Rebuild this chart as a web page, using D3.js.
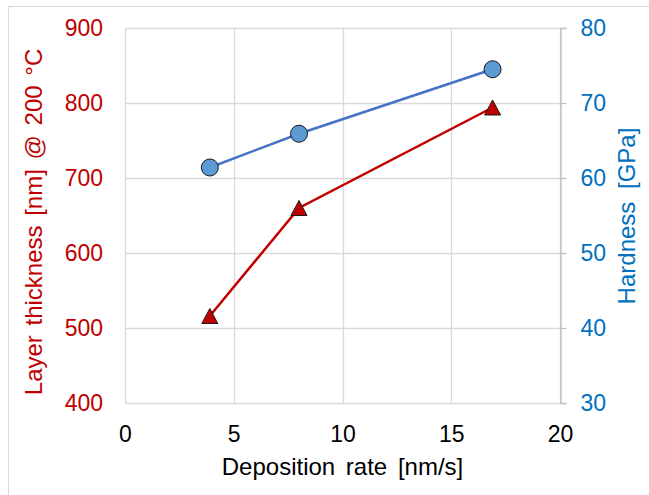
<!DOCTYPE html>
<html>
<head>
<meta charset="utf-8">
<script src="https://cdn.jsdelivr.net/npm/d3@7"></script>
<style>
  body { margin: 0; background: #fff; }
  text { font-family: "Liberation Sans", Arial, sans-serif; }
</style>
</head>
<body>
<svg id="chart"></svg>
<script>
// deposition rate [nm/s]
const rate = [3.9, 8.0, 16.9];
// layer thickness [nm] @ 200 °C
const thickness = [516, 660, 794];
// hardness [GPa]
const hardness = [61.4, 65.9, 74.5];

const xTicks = [0, 5, 10, 15, 20];
const yLeftTicks = [400, 500, 600, 700, 800, 900];
const yRightTicks = [30, 40, 50, 60, 70, 80];

const width = 649, height = 495,
    margin = { top: 28, right: 89, bottom: 92, left: 125 };

const red = "#c00000", blue = "#0070c0", grid = "#d9d9d9";
const tickFont = 23, titleFont = 24;

const svg = d3.select("#chart")
    .attr("width", width)
    .attr("height", height);

// chart frame
svg.append("path")
    .attr("d", "M8.5," + height + "V6.5H" + width)
    .attr("fill", "none")
    .attr("stroke", grid);

const x = d3.scaleLinear()
    .domain([0, 20])
    .range([margin.left, width - margin.right]);

const yL = d3.scaleLinear()
    .domain([400, 900])
    .range([height - margin.bottom, margin.top]);

const yR = d3.scaleLinear()
    .domain([30, 80])
    .range([height - margin.bottom, margin.top]);

// gridlines
svg.append("g")
    .selectAll("line")
    .data(yLeftTicks)
    .join("line")
    .attr("x1", x(0)).attr("x2", x(20))
    .attr("y1", d => Math.round(yL(d)) + 0.5)
    .attr("y2", d => Math.round(yL(d)) + 0.5)
    .attr("stroke", grid)
    .attr("stroke-width", 1.3);

svg.append("g")
    .selectAll("line")
    .data(xTicks)
    .join("line")
    .attr("x1", d => Math.round(x(d)) + 0.5)
    .attr("x2", d => Math.round(x(d)) + 0.5)
    .attr("y1", yL(900)).attr("y2", yL(400))
    .attr("stroke", grid)
    .attr("stroke-width", 1.3);

// x axis labels
const xAxis = svg.append("g")
    .attr("transform", "translate(0," + (height - margin.bottom) + ")")
    .call(d3.axisBottom(x).tickValues(xTicks).tickSize(0).tickPadding(23));
xAxis.select(".domain").remove();
xAxis.selectAll("text")
    .attr("font-size", tickFont)
    .attr("fill", "#000")
    .style("font-family", "Liberation Sans, Arial, sans-serif");

// left axis
const leftAxis = svg.append("g")
    .attr("transform", "translate(" + margin.left + ",0)")
    .call(d3.axisLeft(yL).tickValues(yLeftTicks).tickSize(0).tickPadding(22));
leftAxis.select(".domain").remove();
leftAxis.selectAll("text")
    .attr("font-size", tickFont)
    .attr("fill", red)
    .style("font-family", "Liberation Sans, Arial, sans-serif");

// right axis
const rightAxis = svg.append("g")
    .attr("transform", "translate(" + (width - margin.right + 0.5) + ",0)")
    .call(d3.axisRight(yR).tickValues(yRightTicks).tickSize(6).tickSizeOuter(6).tickPadding(14));
rightAxis.select(".domain").attr("stroke", "#bfbfbf").attr("stroke-width", 1.3);
rightAxis.selectAll(".tick line").attr("stroke", "#bfbfbf").attr("stroke-width", 1.3);
rightAxis.selectAll("text")
    .attr("font-size", tickFont)
    .attr("fill", blue)
    .style("font-family", "Liberation Sans, Arial, sans-serif");

// axis titles
svg.append("text")
    .attr("x", (x(0) + x(20)) / 2)
    .attr("y", 475)
    .attr("text-anchor", "middle")
    .attr("font-size", titleFont)
    .attr("word-spacing", 4)
    .attr("fill", "#000")
    .text("Deposition rate [nm/s]");

svg.append("text")
    .attr("transform", "translate(42," + 222 + ") rotate(-90)")
    .attr("text-anchor", "middle")
    .attr("font-size", titleFont)
    .attr("word-spacing", 3)
    .attr("fill", red)
    .text("Layer thickness [nm] @ 200 °C");

svg.append("text")
    .attr("transform", "translate(635," + 216 + ") rotate(-90)")
    .attr("text-anchor", "middle")
    .attr("font-size", titleFont)
    .attr("word-spacing", 6)
    .attr("fill", blue)
    .text("Hardness [GPa]");

// thickness series
const thickData = rate.map((r, i) => [r, thickness[i]]);
svg.append("path")
    .datum(thickData)
    .attr("fill", "none")
    .attr("stroke", red)
    .attr("stroke-width", 2.5)
    .attr("d", d3.line().x(d => x(d[0])).y(d => yL(d[1])));

svg.append("g")
    .selectAll("path")
    .data(thickData)
    .join("path")
    .attr("transform", d => "translate(" + x(d[0]) + "," + yL(d[1]) + ")")
    .attr("d", "M0,-7.5L8,7.5L-8,7.5Z")
    .attr("fill", red)
    .attr("stroke", "#1a1a1a")
    .attr("stroke-width", 1);

// hardness series
const hardData = rate.map((r, i) => [r, hardness[i]]);
svg.append("path")
    .datum(hardData)
    .attr("fill", "none")
    .attr("stroke", "#4472c4")
    .attr("stroke-width", 2.5)
    .attr("d", d3.line().x(d => x(d[0])).y(d => yR(d[1])));

svg.append("g")
    .selectAll("circle")
    .data(hardData)
    .join("circle")
    .attr("cx", d => x(d[0]))
    .attr("cy", d => yR(d[1]))
    .attr("r", 8.5)
    .attr("fill", "#5b9bd5")
    .attr("stroke", "#1a1a1a")
    .attr("stroke-width", 1);
</script>
</body>
</html>
